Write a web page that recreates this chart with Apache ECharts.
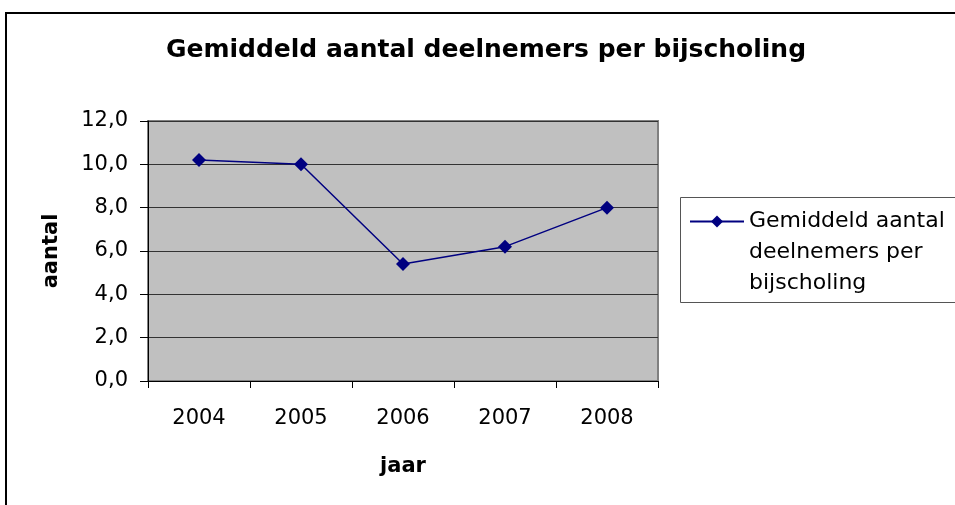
<!DOCTYPE html>
<html>
<head>
<meta charset="utf-8">
<script src="https://cdn.jsdelivr.net/npm/echarts@6/dist/echarts.min.js"></script>
<style>
  html, body { margin: 0; padding: 0; background: #fff; }
  #grafiek { width: 955px; height: 505px; }
</style>
</head>
<body>
<div id="grafiek"></div>
<script>
// gegevens
var jaren = ['2004', '2005', '2006', '2007', '2008'];
var deelnemers = [10.2, 10.0, 5.4, 6.2, 8.0];
var reeksNaam = 'Gemiddeld aantal deelnemers per bijscholing';

var myChart = echarts.init(document.getElementById('grafiek'));

var option = {
  backgroundColor: '#fff',
  animation: false,
  title: {
    text: 'Gemiddeld aantal deelnemers per bijscholing',
    left: 481,
    top: 33,
    textAlign: 'center',
    textStyle: {
      fontFamily: 'DejaVu Sans',
      fontWeight: 'bold',
      fontSize: 25,
      color: '#000'
    }
  },
  // kader om de hele grafiek en om de legenda
  graphic: [
    {
      type: 'rect',
      z: 0,
      shape: { x: 6, y: 13, width: 1000, height: 1000 },
      style: { fill: 'none', stroke: '#000', lineWidth: 2 }
    },
    {
      type: 'rect',
      z: 0,
      shape: { x: 680.5, y: 197.5, width: 400, height: 105 },
      style: { fill: 'none', stroke: '#555', lineWidth: 1 }
    }
  ],
  legend: {
    data: [reeksNaam],
    left: 689,
    top: 144,
    padding: 0,
    itemWidth: 54,
    itemHeight: 15,
    selectedMode: false,
    // twee lege regels erboven zodat het symbool bij de eerste tekstregel staat
    formatter: function () {
      return '\n\nGemiddeld aantal\ndeelnemers per\nbijscholing';
    },
    textStyle: {
      fontFamily: 'DejaVu Sans',
      fontSize: 22,
      color: '#000',
      lineHeight: 31
    }
  },
  grid: {
    left: 148,
    right: 297,
    top: 121,
    height: 260,
    show: true,
    backgroundColor: '#c0c0c0',
    borderColor: '#808080',
    borderWidth: 2
  },
  xAxis: {
    type: 'category',
    data: jaren,
    boundaryGap: true,
    name: 'jaar',
    nameLocation: 'middle',
    nameGap: 75,
    nameTextStyle: {
      fontFamily: 'DejaVu Sans',
      fontWeight: 'bold',
      fontSize: 21,
      color: '#000'
    },
    axisLine: { lineStyle: { color: '#000', width: 1 } },
    axisTick: { show: true, length: 7, lineStyle: { color: '#000' } },
    axisLabel: {
      margin: 27,
      fontFamily: 'DejaVu Sans',
      fontSize: 21,
      color: '#000'
    },
    splitLine: { show: false }
  },
  yAxis: {
    type: 'value',
    min: 0,
    max: 12,
    interval: 2,
    name: 'aantal',
    nameLocation: 'middle',
    nameGap: 86,
    nameTextStyle: {
      fontFamily: 'DejaVu Sans',
      fontWeight: 'bold',
      fontSize: 21,
      color: '#000'
    },
    axisLine: { show: true, lineStyle: { color: '#000', width: 1 } },
    axisTick: { show: true, length: 8, lineStyle: { color: '#000' } },
    axisLabel: {
      margin: 20,
      fontFamily: 'DejaVu Sans',
      fontSize: 21,
      color: '#000',
      formatter: function (v) {
        return v.toFixed(1).replace('.', ',');
      }
    },
    splitLine: { show: true, lineStyle: { color: '#333', width: 1 } }
  },
  series: [
    {
      name: reeksNaam,
      type: 'line',
      data: deelnemers,
      symbol: 'diamond',
      symbolSize: 14,
      color: '#000080',
      itemStyle: { color: '#000080' },
      lineStyle: { color: '#000080', width: 1.5 }
    }
  ]
};

myChart.setOption(option);
</script>
</body>
</html>
